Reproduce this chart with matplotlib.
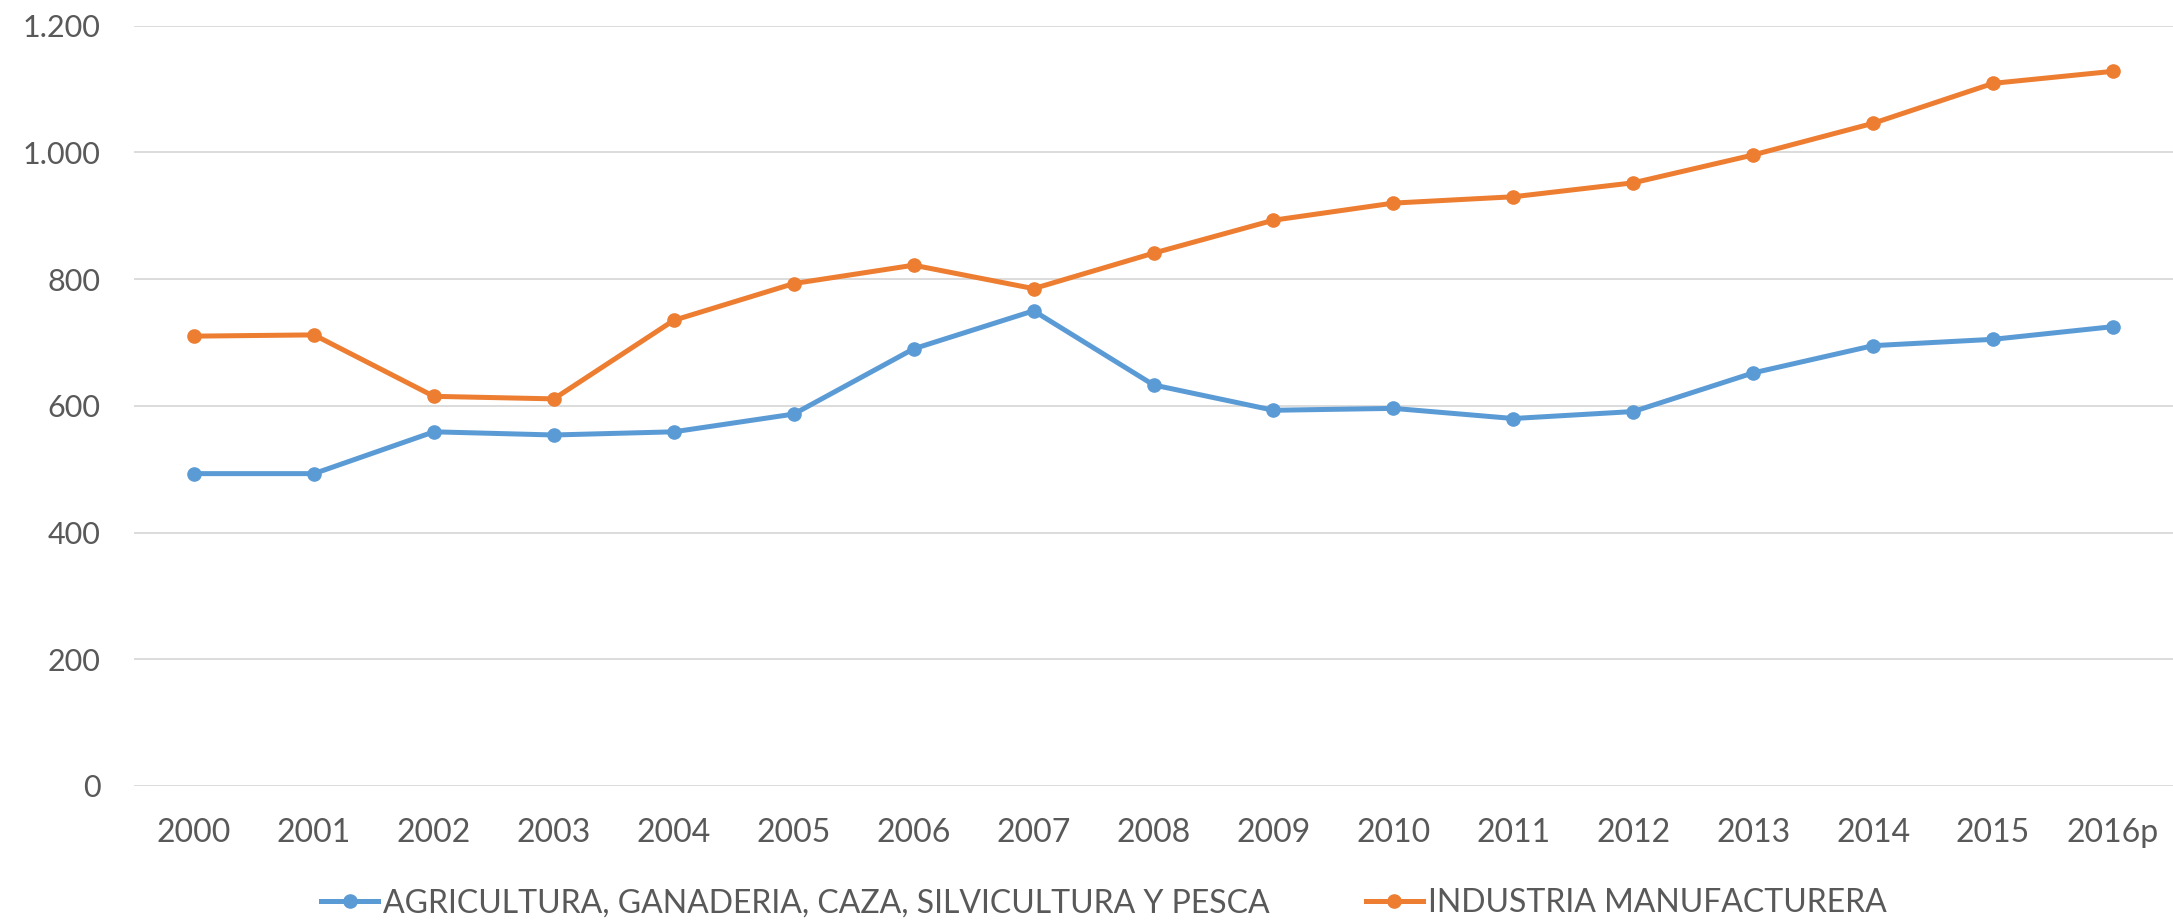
import numpy as np
import matplotlib.pyplot as plt
from matplotlib.ticker import FuncFormatter

years = ['2000', '2001', '2002', '2003', '2004', '2005', '2006', '2007', '2008',
         '2009', '2010', '2011', '2012', '2013', '2014', '2015', '2016p']
agricultura = [493, 493, 559, 554, 559, 587, 690, 750, 633, 593, 596, 580, 591,
               652, 695, 705, 725]
industria = [710, 712, 615, 611, 735, 793, 822, 785, 841, 893, 920, 930, 952,
             996, 1046, 1109, 1128]
labels = ['AGRICULTURA, GANADERIA, CAZA, SILVICULTURA Y PESCA', 'INDUSTRIA MANUFACTURERA']

BLUE = '#5B9BD5'
ORANGE = '#ED7D31'
TEXT = '#595959'

plt.rcParams['font.family'] = ['Lato', 'DejaVu Sans']

fig = plt.figure(figsize=(21.73, 9.21), dpi=100)
ax = fig.add_axes([0.0617, 0.1466, 0.9383, 0.8255])

x = np.arange(len(years))
ax.plot(x, agricultura, color=BLUE, lw=3.6, marker='o', ms=9.5, label=labels[0])
ax.plot(x, industria, color=ORANGE, lw=3.6, marker='o', ms=9.5, label=labels[1])

ax.set_xlim(-0.5, len(years) - 0.5)
ax.set_ylim(0, 1200)
ax.set_yticks(np.arange(0, 1201, 200))
ax.yaxis.set_major_formatter(FuncFormatter(lambda v, p: f'{int(v):,}'.replace(',', '.')))
ax.set_xticks(x)
ax.set_xticklabels(years)
ax.grid(axis='y', color='#D9D9D9', lw=1.3)
ax.set_axisbelow(True)
for s in ax.spines.values():
    s.set_visible(False)
ax.tick_params(axis='both', length=0, labelcolor=TEXT)
ax.tick_params(axis='y', pad=24, labelsize=22)
ax.tick_params(axis='x', pad=23, labelsize=23)

fig.legend(loc='center', bbox_to_anchor=(0.508, 0.0195), ncol=2, frameon=False,
           fontsize=23, labelcolor=TEXT, handlelength=1.8, handletextpad=0.15,
           columnspacing=3.0)

fig.savefig('out.png', dpi=100)
